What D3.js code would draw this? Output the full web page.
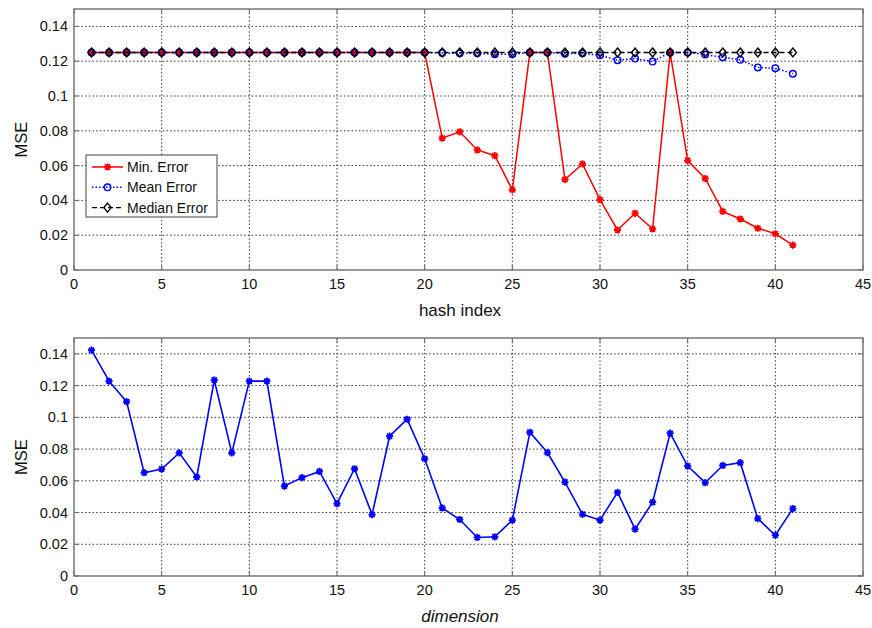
<!DOCTYPE html>
<html><head><meta charset="utf-8">
<script src="https://cdn.jsdelivr.net/npm/d3@7"></script>
<style>body{margin:0;background:#fff}text{font-family:"Liberation Sans",Arial,sans-serif}</style>
</head><body>
<svg id="c" width="872" height="628"></svg>
<script>
const xIndex = d3.range(1, 42);
const minError = [0.125,0.125,0.125,0.125,0.125,0.125,0.125,0.125,0.125,0.125,
  0.125,0.125,0.125,0.125,0.125,0.125,0.125,0.125,0.125,0.125,
  0.0758,0.0794,0.069,0.0657,0.0461,0.125,0.125,0.052,0.061,0.0404,
  0.023,0.0326,0.0236,0.125,0.0629,0.0526,0.0337,0.0293,0.024,0.0208,0.0143];
const meanError = [0.125,0.125,0.125,0.125,0.125,0.125,0.125,0.125,0.125,0.125,
  0.125,0.125,0.125,0.125,0.125,0.125,0.125,0.125,0.125,0.125,
  0.1247,0.1245,0.1245,0.124,0.124,0.125,0.125,0.1243,0.1245,0.1234,
  0.1206,0.1215,0.1198,0.125,0.125,0.1238,0.1223,0.1208,0.1164,0.116,0.1128];
const medianError = xIndex.map(() => 0.125);
const dimMSE = [0.1423,0.1228,0.1099,0.0651,0.0674,0.0776,0.0624,0.1235,0.0776,0.1228,
  0.1228,0.0567,0.062,0.0659,0.0456,0.0676,0.0387,0.0881,0.0988,0.0739,
  0.0429,0.0356,0.0243,0.0247,0.0352,0.0906,0.0778,0.0592,0.0389,0.0352,
  0.0527,0.0295,0.0465,0.09,0.0693,0.0588,0.0697,0.0714,0.0362,0.0257,0.0425];
const xTicks = [0,5,10,15,20,25,30,35,40,45];
const yTicks = [0,0.02,0.04,0.06,0.08,0.1,0.12,0.14];
const yTickLabels = ["0","0.02","0.04","0.06","0.08","0.1","0.12","0.14"];
const legendLabels = ["Min. Error","Mean Error","Median Error"];

const svg = d3.select("#c");
const L = 74, R = 863;

function starPath(s){ // MATLAB '*' : plus + cross
  const d = s*0.72;
  return `M${-s},0L${s},0M0,${-s}L0,${s}M${-d},${-d}L${d},${d}M${-d},${d}L${d},${-d}`;
}
function drawMarker(g, type, color){
  if(type==="star"){
    g.append("path").attr("d", starPath(3.6)).attr("stroke", color).attr("stroke-width", 1.8).attr("fill","none");
  } else if(type==="circle"){
    g.append("circle").attr("r", 3.3).attr("stroke", color).attr("stroke-width", 1.4).attr("fill","none");
  } else if(type==="diamond"){
    g.append("path").attr("d","M0,-4.5L3.6,0L0,4.5L-3.6,0Z").attr("stroke", color).attr("stroke-width", 1.4).attr("fill","none");
  }
}

function panel(top, bottom, xlabel, italic){
  const x = d3.scaleLinear().domain([0,45]).range([L,R]);
  const y = d3.scaleLinear().domain([0,0.15]).range([bottom, top]);
  const g = svg.append("g");
  g.selectAll(".gx").data(xTicks.slice(1,-1)).join("line")
    .attr("x1", d=>x(d)).attr("x2", d=>x(d)).attr("y1", top).attr("y2", bottom)
    .attr("stroke","#111").attr("stroke-width",1).attr("stroke-dasharray","1.5,2.2").attr("opacity",0.85);
  g.selectAll(".gy").data(yTicks.slice(1)).join("line")
    .attr("x1", L).attr("x2", R).attr("y1", d=>y(d)).attr("y2", d=>y(d))
    .attr("stroke","#111").attr("stroke-width",1).attr("stroke-dasharray","1.5,2.2").attr("opacity",0.85);
  g.selectAll(".tx").data(xTicks).join("path")
    .attr("d", d=>`M${x(d)},${bottom}V${bottom-5}M${x(d)},${top}V${top+5}`)
    .attr("stroke","#666").attr("stroke-width",1);
  g.selectAll(".ty").data(yTicks).join("path")
    .attr("d", d=>`M${L},${y(d)}H${L+5}M${R},${y(d)}H${R-5}`)
    .attr("stroke","#666").attr("stroke-width",1);
  g.append("rect").attr("x",L).attr("y",top).attr("width",R-L).attr("height",bottom-top)
    .attr("fill","none").attr("stroke","#6e6e6e").attr("stroke-width",1.4);
  g.selectAll(".lx").data(xTicks).join("text")
    .attr("x", d=>x(d)).attr("y", bottom+19).attr("text-anchor","middle")
    .attr("font-size",14.5).attr("fill","#111").text(d=>d);
  g.selectAll(".ly").data(yTicks).join("text")
    .attr("x", L-6).attr("y", d=>y(d)+5).attr("text-anchor","end")
    .attr("font-size",14.5).attr("fill","#111").text((d,i)=>yTickLabels[i]);
  g.append("text").attr("transform",`translate(27,${(top+bottom)/2}) rotate(-90)`)
    .attr("text-anchor","middle").attr("font-size",16.5).attr("fill","#111").text("MSE");
  g.append("text").attr("x",460).attr("y",bottom+46).attr("text-anchor","middle")
    .attr("font-size",17).attr("fill","#111").attr("font-style", italic?"italic":"normal").text(xlabel);
  return {x, y, g};
}

const p1 = panel(9, 270, "hash index", false);
const line1 = d3.line().x((d,i)=>p1.x(xIndex[i])).y(d=>p1.y(d));
const series = [
  {data:minError, color:"#ff0000", dash:null, marker:"star", w:1.5},
  {data:meanError, color:"#0000ff", dash:"1.5,2", marker:"circle", w:1.5},
  {data:medianError, color:"#000000", dash:"5,3", marker:"diamond", w:1.3}
];
series.forEach(s=>{
  p1.g.append("path").attr("d", line1(s.data)).attr("fill","none")
    .attr("stroke", s.color).attr("stroke-width", s.w).attr("stroke-dasharray", s.dash);
  s.data.forEach((v,i)=>{
    const m = p1.g.append("g").attr("transform",`translate(${p1.x(xIndex[i])},${p1.y(v)})`);
    drawMarker(m, s.marker, s.color);
  });
});
const lg = svg.append("g");
lg.append("rect").attr("x",86).attr("y",155).attr("width",131).attr("height",62)
  .attr("fill","#fff").attr("stroke","#444").attr("stroke-width",1);
series.forEach((s,i)=>{
  const yy = 167 + i*20.3;
  lg.append("line").attr("x1",92).attr("x2",123).attr("y1",yy).attr("y2",yy)
    .attr("stroke",s.color).attr("stroke-width",s.w).attr("stroke-dasharray",s.dash);
  const m = lg.append("g").attr("transform",`translate(107.5,${yy})`);
  drawMarker(m, s.marker, s.color);
  lg.append("text").attr("x",127).attr("y",yy+5).attr("font-size",14).attr("fill","#111").text(legendLabels[i]);
});

const p2 = panel(338, 576, "dimension", true);
const line2 = d3.line().x((d,i)=>p2.x(xIndex[i])).y(d=>p2.y(d));
p2.g.append("path").attr("d", line2(dimMSE)).attr("fill","none").attr("stroke","#0000ff").attr("stroke-width",1.6);
dimMSE.forEach((v,i)=>{
  const m = p2.g.append("g").attr("transform",`translate(${p2.x(xIndex[i])},${p2.y(v)})`);
  drawMarker(m, "star", "#0000ff");
});
</script>
</body></html>
